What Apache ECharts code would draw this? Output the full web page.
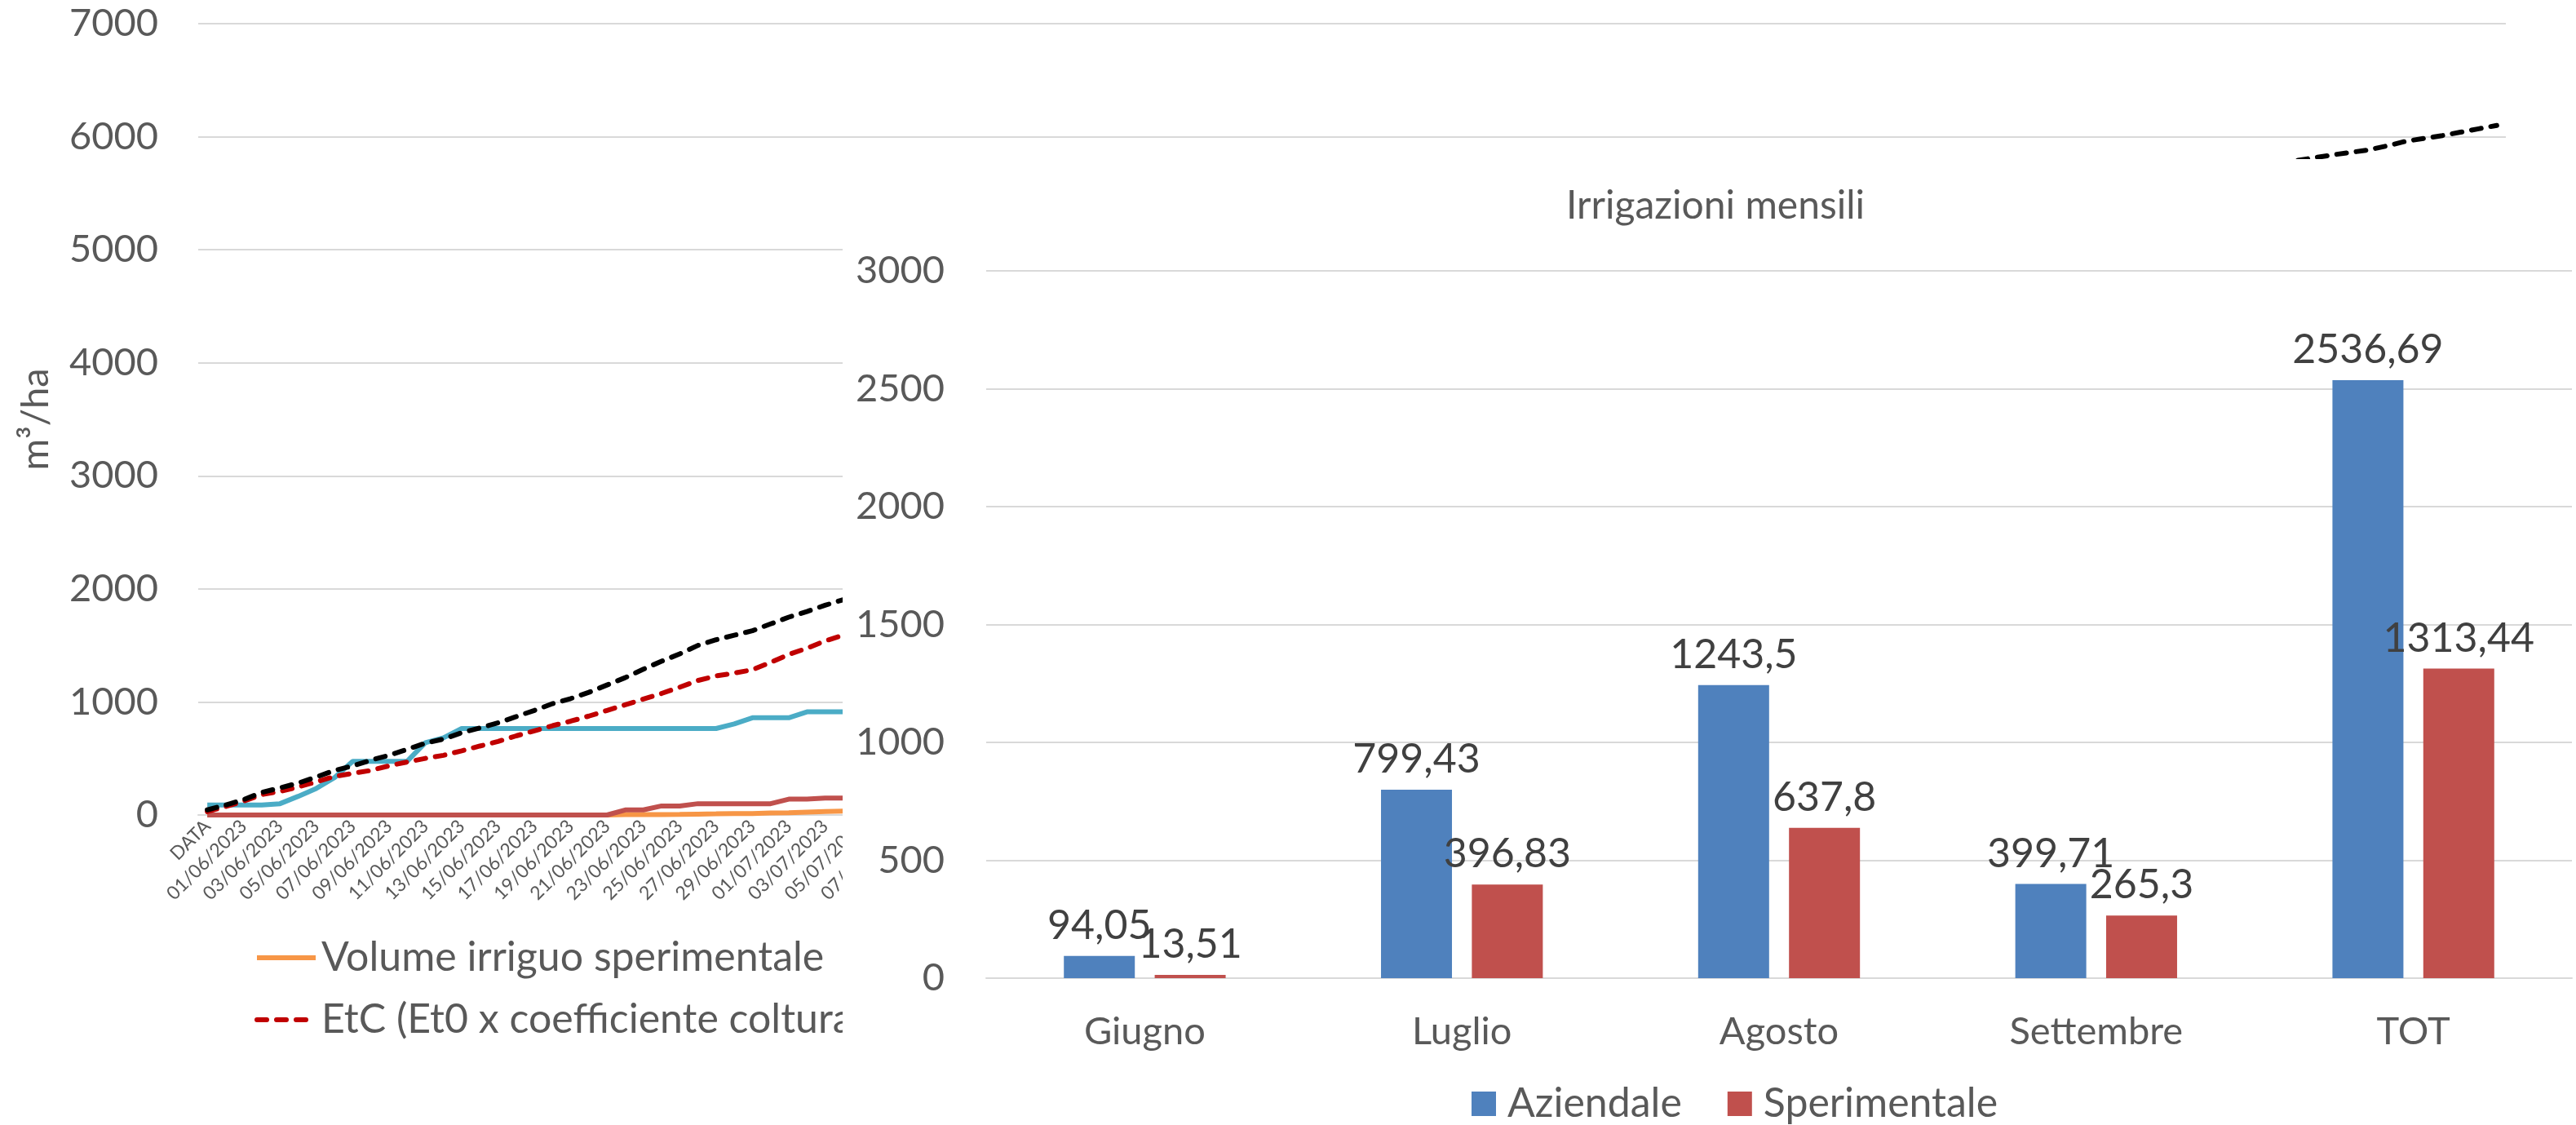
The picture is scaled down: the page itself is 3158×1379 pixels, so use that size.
<!DOCTYPE html>
<html>
<head>
<meta charset="utf-8">
<script src="https://cdn.jsdelivr.net/npm/echarts@6/dist/echarts.min.js"></script>
<style>
  html, body { margin: 0; padding: 0; background: #fff; }
  #lines { position: absolute; left: 0; top: 0; width: 3158px; height: 1379px; }
  #bars { position: absolute; left: 1033px; top: 195px; width: 2125px; height: 1184px; background: #fff; }
</style>
</head>
<body>
<div id="lines"></div>
<div id="bars"></div>
<script>
// ---- daily cumulative chart (background) ----
var dayLabels = ['DATA', ''];
(function() {
  var d = new Date(2023, 5, 1);
  for (var k = 0; k < 125; k++) {
    var dd = ('0' + d.getDate()).slice(-2), mm = ('0' + (d.getMonth() + 1)).slice(-2);
    dayLabels.push(dd + '/' + mm + '/' + d.getFullYear());
    d.setDate(d.getDate() + 1);
  }
})();

// values read for the part of the chart that is visible (index 0..35)
var volSperimentale = [0, 0, 0, 0, 0, 0, 0, 0, 0, 0, 0, 0, 0, 0, 0, 0, 0, 0, 0, 0, 0, 0, 0,
  3, 3, 4, 5, 8, 10, 13.5, 13.5, 18, 20, 25, 30, 35];
var volAziendale = [0, 0, 0, 0, 0, 0, 0, 0, 0, 0, 0, 0, 0, 0, 0, 0, 0, 0, 0, 0, 0, 0, 0,
  45, 45, 80, 80, 100, 100, 100, 100, 100, 140, 140, 150, 150];
var pioggia = [88, 88, 88, 88, 100, 165, 235, 330, 475, 475, 475, 475, 640, 683, 765, 765,
  765, 765, 765, 765, 765, 765, 765, 765, 765, 765, 765, 765, 765, 805, 860, 860, 860, 912, 912, 912];
var etc = [30, 74, 122, 181, 208, 248, 293, 341, 368, 394, 435, 469, 501, 528, 568, 610,
  650, 700, 745, 790, 830, 875, 925, 975, 1025, 1075, 1130, 1190, 1230, 1255, 1285, 1350, 1420, 1475, 1540, 1590];
var et0 = [45, 88, 136, 200, 240, 282, 336, 394, 434, 485, 528, 581, 635, 672, 728, 770,
  815, 870, 925, 985, 1030, 1085, 1150, 1215, 1290, 1360, 1425, 1500, 1550, 1590, 1630, 1690, 1750, 1800, 1855, 1905];
// last visible stretch of Et0 (index 114..126), above the inset
var et0Tail = [5765, 5790, 5815, 5840, 5862, 5885, 5920, 5960, 5985, 6010, 6040, 6070, 6100];

var leftTicks = { min: 0, max: 7000, interval: 1000 };

function full(head, tail) {
  var out = head.slice();
  var tailStart = tail ? dayLabels.length - tail.length : dayLabels.length;
  while (out.length < tailStart) out.push(null);
  if (tail) out = out.concat(tail);
  return out;
}

// ---- monthly bars (inset) ----
var months = ['Giugno', 'Luglio', 'Agosto', 'Settembre', 'TOT'];
var aziendale = [94.05, 799.43, 1243.5, 399.71, 2536.69];
var sperimentale = [13.51, 396.83, 637.8, 265.3, 1313.44];
var barTicks = { min: 0, max: 3000, interval: 500 };

var FONT = 'Lato, Carlito, "Open Sans", sans-serif';
var grey = '#595959';
var gridGrey = '#D9D9D9';

function plain(v) { return String(v); }

var lineChart = echarts.init(document.getElementById('lines'), null, { renderer: 'canvas' });
lineChart.setOption({
  animation: false,
  backgroundColor: '#fff',
  textStyle: { fontFamily: FONT },
  grid: { left: 243, right: 86, top: 29, bottom: 380, containLabel: false },
  legend: {
    data: ['Volume irriguo sperimentale', 'EtC (Et0 x coefficiente colturale)'],
    orient: 'vertical',
    left: 307, top: 1144,
    itemWidth: 72, itemHeight: 14, itemGap: 26,
    selectedMode: false,
    itemStyle: { opacity: 0 },
    lineStyle: { width: 6 },
    textStyle: { color: grey, fontSize: 50, fontFamily: FONT, padding: [0, 0, 0, 2] }
  },
  xAxis: {
    type: 'category',
    data: dayLabels,
    boundaryGap: true,
    axisLine: { lineStyle: { color: gridGrey, width: 2 } },
    axisTick: { show: false },
    axisLabel: { interval: 1, rotate: 45, color: grey, fontSize: 23, margin: 10, fontFamily: FONT }
  },
  yAxis: {
    type: 'value',
    min: leftTicks.min, max: leftTicks.max, interval: leftTicks.interval,
    name: 'm³/ha',
    nameLocation: 'middle',
    nameGap: 176,
    nameTextStyle: { color: grey, fontSize: 47, fontFamily: FONT },
    axisLabel: { color: grey, fontSize: 47, margin: 49, fontFamily: FONT, formatter: plain },
    axisLine: { show: false },
    axisTick: { show: false },
    splitLine: { lineStyle: { color: gridGrey, width: 2 } }
  },
  series: [
    {
      name: 'Volume irriguo sperimentale', type: 'line', data: full(volSperimentale),
      symbol: 'none', z: 2,
      lineStyle: { color: '#F79646', width: 6 }, itemStyle: { color: '#F79646' }
    },
    {
      name: 'Volume irriguo aziendale', type: 'line', data: full(volAziendale),
      symbol: 'none', z: 3,
      lineStyle: { color: '#C0504D', width: 6 }, itemStyle: { color: '#C0504D' }
    },
    {
      name: 'Pioggia', type: 'line', data: full(pioggia),
      symbol: 'none', z: 4,
      lineStyle: { color: '#4BACC6', width: 6 }, itemStyle: { color: '#4BACC6' }
    },
    {
      name: 'EtC (Et0 x coefficiente colturale)', type: 'line', data: full(etc),
      symbol: 'none', z: 5,
      lineStyle: { color: '#C00000', width: 6, type: [12, 12], cap: 'round' }, itemStyle: { color: '#C00000' }
    },
    {
      name: 'Et0', type: 'line', data: full(et0, et0Tail),
      symbol: 'none', z: 5, connectNulls: false,
      lineStyle: { color: '#000000', width: 6, type: [12, 12], cap: 'round' }, itemStyle: { color: '#000000' }
    }
  ]
});

function comma(p) { return String(p.value).replace('.', ','); }

var barChart = echarts.init(document.getElementById('bars'), null, { renderer: 'canvas' });
barChart.setOption({
  animation: false,
  backgroundColor: '#fff',
  textStyle: { fontFamily: FONT },
  title: {
    text: 'Irrigazioni mensili',
    left: 887, top: 34, padding: 0,
    textStyle: { color: grey, fontSize: 48, fontWeight: 'normal', fontFamily: FONT }
  },
  grid: { left: 176, right: 5, top: 137, bottom: 180, containLabel: false },
  legend: {
    data: ['Aziendale', 'Sperimentale'],
    left: 766, top: 1128,
    icon: 'rect', itemWidth: 30, itemHeight: 30, itemGap: 56,
    selectedMode: false,
    textStyle: { color: grey, fontSize: 50, fontFamily: FONT, padding: [0, 0, 0, 9] }
  },
  xAxis: {
    type: 'category',
    data: months,
    axisLine: { lineStyle: { color: gridGrey, width: 2 } },
    axisTick: { show: false },
    axisLabel: { color: grey, fontSize: 47, margin: 42, fontFamily: FONT }
  },
  yAxis: {
    type: 'value',
    min: barTicks.min, max: barTicks.max, interval: barTicks.interval,
    axisLabel: { color: grey, fontSize: 47, margin: 51, fontFamily: FONT, formatter: plain },
    axisLine: { show: false },
    axisTick: { show: false },
    splitLine: { lineStyle: { color: gridGrey, width: 2 } }
  },
  series: [
    {
      name: 'Aziendale', type: 'bar', data: aziendale,
      barWidth: 87, barGap: '28%',
      itemStyle: { color: '#4F81BD' },
      label: { show: true, position: 'top', distance: 12, color: '#404040', fontSize: 50, fontFamily: FONT, formatter: comma }
    },
    {
      name: 'Sperimentale', type: 'bar', data: sperimentale,
      barWidth: 87,
      itemStyle: { color: '#C0504D' },
      label: { show: true, position: 'top', distance: 12, color: '#404040', fontSize: 50, fontFamily: FONT, formatter: comma }
    }
  ]
});

window.addEventListener('resize', function() { lineChart.resize(); barChart.resize(); });
</script>
</body>
</html>
